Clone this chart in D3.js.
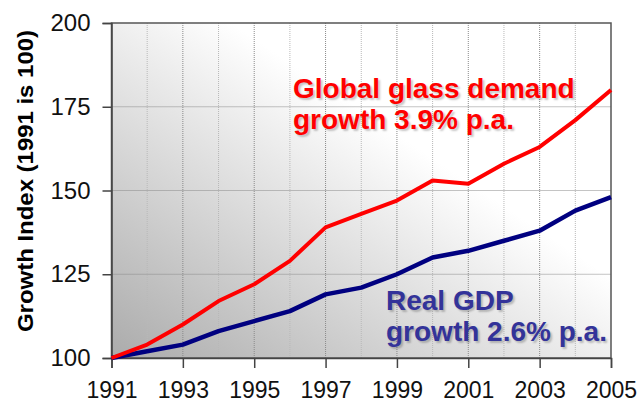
<!DOCTYPE html>
<html>
<head>
<meta charset="utf-8">
<script src="https://cdn.jsdelivr.net/npm/d3@7"></script>
<style>
  body { margin: 0; background: #fff; }
  svg { display: block; font-family: "Liberation Sans", Arial, sans-serif; }
  .note { font-weight: bold; text-shadow: 2px 2px 2px rgba(0,0,0,0.22); }
</style>
</head>
<body>
<div id="chart"></div>
<script>
// values
const years = [1991, 1992, 1993, 1994, 1995, 1996, 1997, 1998, 1999, 2000, 2001, 2002, 2003, 2004, 2005];
const glassDemand = [100, 104, 110, 117, 122, 129, 139, 143, 147, 153, 152, 158, 163, 171, 180];
const realGdp = [100, 102, 104, 108, 111, 114, 119, 121, 125, 130, 132, 135, 138, 144, 148];
const yTicks = [100, 125, 150, 175, 200];
const xTicks = [1991, 1993, 1995, 1997, 1999, 2001, 2003, 2005];

const width = 639, height = 403;
const margin = { top: 23, right: 28, bottom: 45, left: 111.5 };

const svg = d3.select('#chart').append('svg')
  .attr('width', width)
  .attr('height', height);

const x = d3.scaleLinear()
  .domain([1991, 2005])
  .range([margin.left, width - margin.right]);
const y = d3.scaleLinear()
  .domain([100, 200])
  .range([height - margin.bottom, margin.top]);

// plot background: grey bottom-left fading to white top-right
const grad = svg.append('defs').append('linearGradient')
  .attr('id', 'bg')
  .attr('x1', 0).attr('y1', 1)
  .attr('x2', 0.62).attr('y2', 0.38);
grad.append('stop').attr('offset', 0).attr('stop-color', '#ababab');
grad.append('stop').attr('offset', 1).attr('stop-color', '#ffffff');

svg.append('rect')
  .attr('x', x(1991))
  .attr('y', y(200))
  .attr('width', x(2005) - x(1991))
  .attr('height', y(100) - y(200))
  .attr('fill', 'url(#bg)');

// dotted grid, darker on the labelled years
svg.append('g')
  .selectAll('line')
  .data(years.slice(1, -1))
  .join('line')
  .attr('x1', d => x(d)).attr('x2', d => x(d))
  .attr('y1', y(200)).attr('y2', y(100))
  .attr('stroke', d => xTicks.includes(d) ? '#8a8a8a' : '#b8b8b8')
  .attr('stroke-width', 1)
  .attr('stroke-dasharray', '1,1');

svg.append('g')
  .selectAll('line')
  .data(yTicks.slice(1, -1))
  .join('line')
  .attr('x1', x(1991)).attr('x2', x(2005))
  .attr('y1', d => y(d)).attr('y2', d => y(d))
  .attr('stroke', '#888')
  .attr('stroke-width', 1)
  .attr('stroke-dasharray', '1,1');

// frame
svg.append('rect')
  .attr('x', x(1991))
  .attr('y', y(200))
  .attr('width', x(2005) - x(1991))
  .attr('height', y(100) - y(200))
  .attr('fill', 'none')
  .attr('stroke', '#555')
  .attr('stroke-width', 1.5);

// axes
const yAxis = svg.append('g')
  .attr('transform', `translate(${x(1991)},0)`)
  .call(d3.axisLeft(y).tickValues(yTicks).tickSize(9).tickPadding(12));
const xAxis = svg.append('g')
  .attr('transform', `translate(0,${y(100)})`)
  .call(d3.axisBottom(x).tickValues(xTicks).tickFormat(d3.format('d')).tickSize(10).tickPadding(14));

[yAxis, xAxis].forEach(a => {
  a.select('.domain').attr('stroke', '#444').attr('stroke-width', 1.5);
  a.selectAll('.tick line').attr('stroke', '#444').attr('stroke-width', 1.5);
  a.selectAll('.tick text')
    .attr('fill', '#111')
    .attr('font-size', 24)
    .attr('font-family', '"Liberation Sans", Arial, sans-serif');
});
xAxis.selectAll('.tick text').attr('font-size', 23);

// lines
const line = d3.line()
  .x((d, i) => x(years[i]))
  .y(d => y(d));

svg.append('path')
  .datum(realGdp)
  .attr('d', line)
  .attr('fill', 'none')
  .attr('stroke', '#000080')
  .attr('stroke-width', 4.5)
  .attr('stroke-linejoin', 'round');

svg.append('path')
  .datum(glassDemand)
  .attr('d', line)
  .attr('fill', 'none')
  .attr('stroke', '#ff0000')
  .attr('stroke-width', 4)
  .attr('stroke-linejoin', 'round');

// y axis title
svg.append('text')
  .attr('transform', 'translate(33,181) rotate(-90)')
  .attr('text-anchor', 'middle')
  .attr('font-size', 22)
  .attr('font-weight', 'bold')
  .attr('fill', '#000')
  .attr('textLength', 302)
  .attr('lengthAdjust', 'spacingAndGlyphs')
  .text('Growth Index (1991 is 100)');

// annotations
const notes = [
  { lines: ['Global glass demand', 'growth 3.9% p.a.'], x: 293, y: 98, dy: 31, color: '#ff0000' },
  { lines: ['Real GDP', 'growth 2.6% p.a.'], x: 386, y: 310, dy: 31, color: '#333399' }
];
notes.forEach(n => {
  const t = svg.append('text')
    .attr('class', 'note')
    .attr('font-size', 28)
    .attr('fill', n.color);
  n.lines.forEach((l, i) => {
    t.append('tspan')
      .attr('x', n.x)
      .attr('y', n.y + i * n.dy)
      .text(l);
  });
});
</script>
</body>
</html>
